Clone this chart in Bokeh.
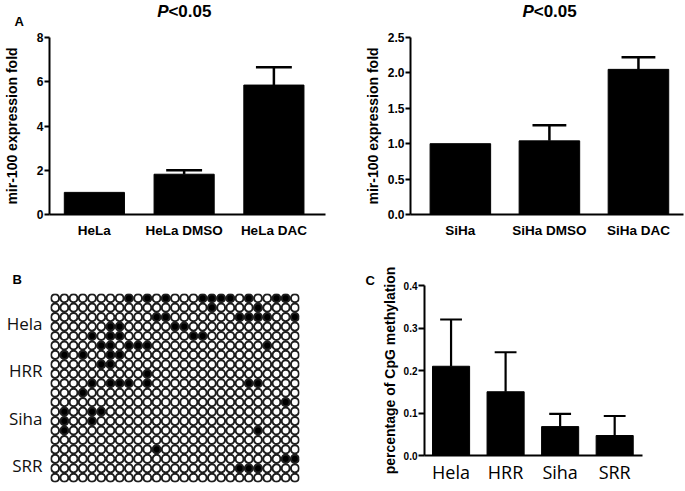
from bokeh.plotting import figure
from bokeh.layouts import column, row
from bokeh.models import Range1d, FixedTicker, Label, NumeralTickFormatter, CustomJSTickFormatter
from bokeh.embed import file_html
from bokeh.resources import INLINE

# ---------------- data ----------------
hela_groups = ["HeLa", "HeLa DMSO", "HeLa DAC"]
hela_fold = [1.0, 1.82, 5.85]
hela_err = [0.0, 0.18, 0.80]
hela_ticks = [0, 2, 4, 6, 8]

siha_groups = ["SiHa", "SiHa DMSO", "SiHa DAC"]
siha_fold = [1.0, 1.04, 2.05]
siha_err = [0.0, 0.22, 0.17]
siha_ticks = [0.0, 0.5, 1.0, 1.5, 2.0, 2.5]

cell_lines = ["Hela", "HRR", "Siha", "SRR"]
n_sites = 27
hela_methylated = [[8, 10, 12, 16, 17, 18, 19, 21, 24, 25], [17, 22],
                   [11, 12, 20, 21, 22, 23, 26], [6, 7, 13, 14], [4, 6, 7, 15, 16]]
hrr_methylated = [[5, 6, 8, 9, 10, 23], [1, 3, 6, 7], [5, 6], [10],
                  [4, 6, 7, 8, 10, 21, 22]]
siha_methylated = [[3], [25], [1, 4, 5], [1, 4], [1, 22]]
srr_methylated = [[], [11], [25, 26], [20, 21, 22], []]

cpg_groups = ["Hela", "HRR", "Siha", "SRR"]
cpg_meth = [0.21, 0.15, 0.068, 0.047]
cpg_err = [0.11, 0.093, 0.030, 0.046]
cpg_ticks = [0.0, 0.1, 0.2, 0.3, 0.4]

ARIAL = "Liberation Sans"
SANS = "Open Sans"


def style_common(p):
    p.xgrid.visible = False
    p.ygrid.visible = False
    p.outline_line_color = None
    p.background_fill_color = "white"
    p.border_fill_color = "white"


def bar_panel(groups, vals, errs, ticks, fmt, xr, yr, size, borders,
              bw, capw, tick_font, ylabel, ylab_font, ylab_std,
              xlab_font, xlab_bold, xlab_std, err_w, tick_out):
    w, h = size
    l, r, t, b = borders
    p = figure(width=w, height=h, x_range=Range1d(*xr), y_range=Range1d(*yr),
               output_backend="svg", toolbar_location=None,
               min_border_left=l, min_border_right=r, min_border_top=t,
               min_border_bottom=b)
    style_common(p)
    x = list(range(len(groups)))
    p.vbar(x=x, top=vals, width=bw, fill_color="black", line_color="black")
    ex = [xi for xi, e in zip(x, errs) if e > 0]
    ev = [v for v, e in zip(vals, errs) if e > 0]
    et = [v + e for v, e in zip(vals, errs) if e > 0]
    p.segment(x0=ex, y0=ev, x1=ex, y1=et, line_color="black", line_width=err_w)
    p.segment(x0=[xi - capw for xi in ex], y0=et, x1=[xi + capw for xi in ex], y1=et,
              line_color="black", line_width=err_w)
    xa = p.xaxis[0]
    xa.ticker = FixedTicker(ticks=x)
    xa.major_label_overrides = {i: g for i, g in enumerate(groups)}
    xa.major_tick_line_color = None
    xa.minor_tick_line_color = None
    xa.major_tick_out = 0
    xa.major_tick_in = 0
    xa.axis_line_width = 2
    xa.axis_line_color = "black"
    xa.major_label_text_font = xlab_font[0]
    xa.major_label_text_font_size = xlab_font[1]
    xa.major_label_text_font_style = "bold" if xlab_bold else "normal"
    xa.major_label_text_color = "black"
    xa.major_label_standoff = xlab_std
    ya = p.yaxis[0]
    ya.ticker = FixedTicker(ticks=ticks)
    if fmt:
        ya.formatter = NumeralTickFormatter(format=fmt)
    ya.minor_tick_line_color = None
    ya.major_tick_out = tick_out
    ya.major_tick_in = 0
    ya.major_tick_line_width = 2
    ya.axis_line_width = 2
    ya.axis_line_color = "black"
    ya.major_label_text_font = ARIAL
    ya.major_label_text_font_size = tick_font
    ya.major_label_text_font_style = "bold"
    ya.major_label_text_color = "black"
    ya.major_label_standoff = 1
    ya.axis_label = ylabel
    ya.axis_label_text_font = ARIAL
    ya.axis_label_text_font_size = ylab_font
    ya.axis_label_text_font_style = "bold"
    ya.axis_label_text_color = "black"
    ya.axis_label_standoff = ylab_std
    return p


def text_label(text, x, y, xo, yo, size, style, baseline, font=ARIAL):
    return Label(x=x, y=y, x_offset=xo, y_offset=yo, text=text,
                 text_font=font, text_font_style=style, text_font_size=size,
                 text_align="left", text_baseline=baseline, text_color="black")


# ---------------- Panel A left ----------------
pA1 = bar_panel(hela_groups, hela_fold, hela_err, hela_ticks, None,
                (-0.5, 2.575), (0, 8), (340, 245), (47, 15, 37, 31),
                0.67, 0.2, "12px", "mir-100 expression fold", "14px", 14,
                (ARIAL, "13.5px"), True, 8, 2.5, 5)
# labels parked in side panels with spare room so they are not clipped to the frame
pA1.add_layout(text_label("<0.05", 1, 8, -15.7, 17, "17px", "bold", "bottom"), "above")
pA1.add_layout(text_label("A", -0.5, 8, -35, 24, "13px", "bold", "top"), "above")
pA1.add_layout(text_label("P", 1, 8, -27, 17, "17px", "bold italic", "bottom"), "right")

# ---------------- Panel A right ----------------
pA2 = bar_panel(siha_groups, siha_fold, siha_err, siha_ticks, "0.0",
                (-0.56, 2.506), (0, 2.5), (345, 245), (70, 2, 37, 31),
                0.68, 0.19, "12px", "mir-100 expression fold", "14px", 4,
                (ARIAL, "13.5px"), True, 8, 2.5, 5)
pA2.add_layout(text_label("<0.05", 1, 2.5, -15.7, 17, "17px", "bold", "bottom"), "above")
pA2.add_layout(text_label("P", 1, 2.5, -27, 17, "17px", "bold italic", "bottom"), "left")

# ---------------- Panel B ----------------
pB = figure(width=322, height=245, x_range=Range1d(-0.5, n_sites - 0.5),
            y_range=Range1d(19.5, -0.5), output_backend="svg", toolbar_location=None,
            x_axis_location=None,
            min_border_left=50, min_border_right=23, min_border_top=48, min_border_bottom=8)
style_common(pB)
xs, ys, fills = [], [], []
for g, clone_rows in enumerate([hela_methylated, hrr_methylated, siha_methylated, srr_methylated]):
    for r, filled in enumerate(clone_rows):
        for c in range(n_sites):
            xs.append(c)
            ys.append(g * len(clone_rows) + r)
            fills.append("black" if c in filled else "white")
pB.ellipse(x=xs, y=ys, width=0.86, height=0.86, fill_color=fills,
           line_color="#1e1e1e", line_width=2)
yb = pB.yaxis[0]
yb.ticker = FixedTicker(ticks=[g * 5 + 2.7 for g in range(len(cell_lines))])
yb.formatter = CustomJSTickFormatter(args=dict(names=cell_lines), code="return names[index];")
yb.axis_line_color = None
yb.major_tick_line_color = None
yb.minor_tick_line_color = None
yb.major_tick_out = 0
yb.major_tick_in = 0
yb.major_label_text_font = SANS
yb.major_label_text_font_size = "17px"
yb.major_label_text_color = "#111111"
yb.major_label_standoff = 8
pB.add_layout(text_label("B", -0.5, -0.5, -38, 22, "13px", "bold", "top"), "above")

# ---------------- Panel C ----------------
pC = bar_panel(cpg_groups, cpg_meth, cpg_err, cpg_ticks, "0.0",
               (-0.487, 3.51), (0, 0.4), (363, 245), (102, 43, 40, 35),
               0.68, 0.2, "10px", "percentage of CpG methylation", "14px", 3,
               (SANS, "18px"), False, 4, 2.2, 6)
pC.add_layout(text_label("C", -0.487, 0.4, -59, 13, "13px", "bold", "top"), "above")

layout = column(row(pA1, pA2), row(column(pB), column(pC)))
open("out.html", "w").write(file_html(layout, INLINE))
